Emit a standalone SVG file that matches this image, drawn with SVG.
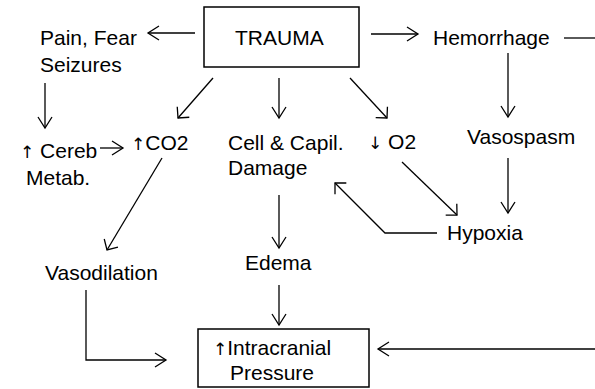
<svg xmlns="http://www.w3.org/2000/svg" width="595" height="389" viewBox="0 0 595 389">
<defs>
<style>
text{font-family:"Liberation Sans",Arial,sans-serif;font-size:21px;fill:#000}
.ar{font-family:"DejaVu Sans",sans-serif;font-size:17px;fill:#000}
.box{fill:none;stroke:#000;stroke-width:1.5}
.c{fill:none;stroke:#000;stroke-width:1.3}
.ah{marker-end:url(#a)}
.ad{marker-end:url(#d)}
</style>
<marker id="a" markerUnits="userSpaceOnUse" viewBox="-14 -10 16 20" markerWidth="16" markerHeight="20" refX="0" refY="0" orient="auto">
<path d="M-11,-7 L0,0 L-11,7" fill="none" stroke="#000" stroke-width="1.3"/>
</marker>
<marker id="d" markerUnits="userSpaceOnUse" viewBox="-12 -12 14 24" markerWidth="14" markerHeight="24" refX="0" refY="0" orient="auto">
<path d="M-8,-8 L0,0 L-8,8" fill="none" stroke="#000" stroke-width="1.3"/>
</marker>
</defs>
<rect width="595" height="389" fill="#fff"/>
<g id="connectors">
<line class="c ah" x1="195" y1="33" x2="148" y2="33"/>
<line class="c ah" x1="371" y1="34" x2="418" y2="34"/>
<line class="c" x1="564" y1="38" x2="595" y2="38"/>
<line class="c ah" x1="595" y1="349" x2="378" y2="349"/>
<line class="c ah" x1="508" y1="53" x2="508" y2="117"/>
<line class="c ah" x1="508" y1="158" x2="508" y2="213"/>
<line class="c ah" x1="45" y1="83" x2="45" y2="128"/>
<line class="c ah" x1="100" y1="148" x2="123" y2="148"/>
<line class="c ad" x1="213" y1="78" x2="178" y2="118"/>
<line class="c ah" x1="279" y1="78" x2="279" y2="118"/>
<line class="c ad" x1="350" y1="78" x2="387" y2="118"/>
<line class="c ad" x1="402" y1="162" x2="457" y2="215"/>
<polyline class="c ad" points="437,233 385,233 335,183"/>
<line class="c ad" x1="162" y1="158" x2="107" y2="250"/>
<polyline class="c ah" points="86,290 86,360 166,360"/>
<line class="c ah" x1="279" y1="195" x2="279" y2="248"/>
<line class="c ah" x1="279" y1="285" x2="279" y2="325"/>
</g>
<g id="trauma">
<rect class="box" x="204" y="7" width="155" height="60"/>
<text x="235" y="45">TRAUMA</text>
</g>
<g id="pain"><text x="40" y="45">Pain, Fear</text><text x="40" y="72">Seizures</text></g>
<g id="hemorrhage"><text x="433" y="45">Hemorrhage</text></g>
<g id="cereb"><text x="20" y="158"><tspan class="ar">↑</tspan> Cereb</text><text x="26" y="185">Metab.</text></g>
<g id="co2"><text x="131" y="150"><tspan class="ar">↑</tspan>CO2</text></g>
<g id="cell"><text x="228" y="150">Cell &amp; Capil.</text><text x="228" y="175">Damage</text></g>
<g id="o2"><text x="368" y="149"><tspan class="ar">↓</tspan> O2</text></g>
<g id="vasospasm"><text x="467" y="144">Vasospasm</text></g>
<g id="hypoxia"><text x="447" y="240">Hypoxia</text></g>
<g id="vasodilation"><text x="45" y="280">Vasodilation</text></g>
<g id="edema"><text x="245" y="270">Edema</text></g>
<g id="icp">
<rect class="box" x="198" y="329" width="171" height="58"/>
<text x="213" y="355"><tspan class="ar">↑</tspan>Intracranial</text>
<text x="230" y="380">Pressure</text>
</g>
</svg>
